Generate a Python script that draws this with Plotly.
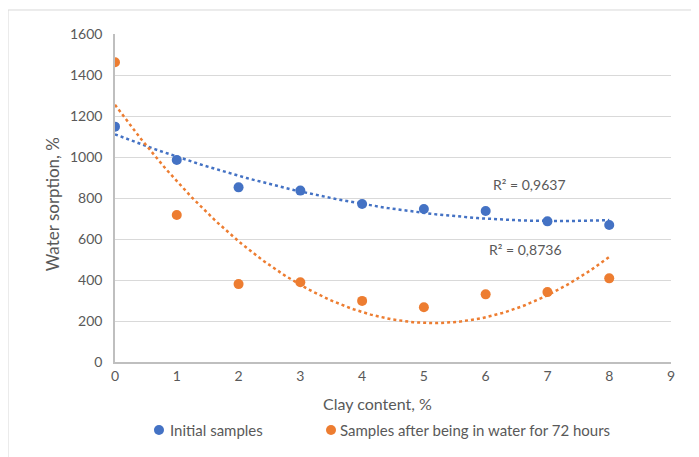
import numpy as np
import plotly.graph_objects as go

clay = [0, 1, 2, 3, 4, 5, 6, 7, 8]
initial = [1148, 985, 852, 836, 771, 746, 737, 686, 668]
after72 = [1462, 717, 380, 389, 298, 267, 330, 341, 408]
series_names = ["Initial samples", "Samples after being in water for 72 hours"]
r2_labels = ["R² = 0,9637", "R² = 0,8736"]
x_ticks = list(range(0, 10))
y_ticks = list(range(0, 1601, 200))

BLUE = "#4472C4"
ORANGE = "#ED7D31"
TXT = "#595959"
FONT = "Lato"

xs = np.linspace(0, 8, 200)
fit_b = np.polyval(np.polyfit(clay, initial, 2), xs)
fit_o = np.polyval(np.polyfit(clay, after72, 2), xs)

fig = go.Figure()
fig.add_trace(go.Scatter(x=xs, y=fit_b, mode="lines", showlegend=False,
                         line=dict(color=BLUE, width=2.5, dash="dot"), hoverinfo="skip"))
fig.add_trace(go.Scatter(x=xs, y=fit_o, mode="lines", showlegend=False,
                         line=dict(color=ORANGE, width=2.5, dash="dot"), hoverinfo="skip"))
fig.add_trace(go.Scatter(x=clay, y=initial, mode="markers", name=series_names[0],
                         showlegend=False, marker=dict(color=BLUE, size=10)))
fig.add_trace(go.Scatter(x=clay, y=after72, mode="markers", name=series_names[1],
                         showlegend=False, marker=dict(color=ORANGE, size=10)))

# R² labels
fig.add_annotation(x=6.71, y=868, text=r2_labels[0], showarrow=False,
                   font=dict(family=FONT, size=14, color=TXT))
fig.add_annotation(x=6.64, y=551, text=r2_labels[1], showarrow=False,
                   font=dict(family=FONT, size=14, color=TXT))

# custom legend (below plot)
leg_y = -0.2073
for mx, tx, col, name in [(0.0791, 0.0953, BLUE, series_names[0]),
                          (0.3885, 0.4011, ORANGE, series_names[1])]:
    fig.add_shape(type="circle", xref="paper", yref="paper", xsizemode="pixel",
                  ysizemode="pixel", xanchor=mx, yanchor=leg_y, x0=-5, x1=5, y0=-5, y1=5,
                  fillcolor=col, line=dict(width=0))
    fig.add_annotation(xref="paper", yref="paper", x=tx, y=leg_y, xanchor="left",
                       yanchor="middle", text=name, showarrow=False,
                       font=dict(family=FONT, size=15, color=TXT))

# axis titles
fig.add_annotation(xref="paper", yref="paper", x=0.473, y=-0.125, text="Clay content, %",
                   showarrow=False, xanchor="center", yanchor="middle",
                   font=dict(family=FONT, size=16, color=TXT))
fig.add_annotation(xref="paper", yref="paper", x=-0.112, y=0.48, text="Water sorption, %",
                   showarrow=False, xanchor="center", yanchor="middle", textangle=-90,
                   font=dict(family=FONT, size=17, color=TXT))

# outer chart border
fig.add_shape(type="rect", xref="paper", yref="paper", x0=-0.1924, x1=1.2,
              y0=-0.4, y1=1.0732, line=dict(color="#D9D9D9", width=1), layer="below")

fig.update_layout(
    width=691, height=449,
    margin=dict(l=107, r=28, t=26, b=95),
    paper_bgcolor="white", plot_bgcolor="white",
    font=dict(family=FONT, color=TXT, size=14),
    showlegend=False,
    xaxis=dict(range=[0, 9], tickvals=x_ticks, showgrid=False, zeroline=False,
               showline=True, linecolor="#BFBFBF", linewidth=1.5,
               ticks="", tickfont=dict(size=14)),
    yaxis=dict(range=[0, 1600], tickvals=y_ticks, showgrid=True, gridcolor="#D9D9D9",
               gridwidth=1, zeroline=False, showline=True, linecolor="#BFBFBF",
               linewidth=1.5, ticks="", ticklabelstandoff=8, tickfont=dict(size=14)),
)

fig.write_html("out.html")
